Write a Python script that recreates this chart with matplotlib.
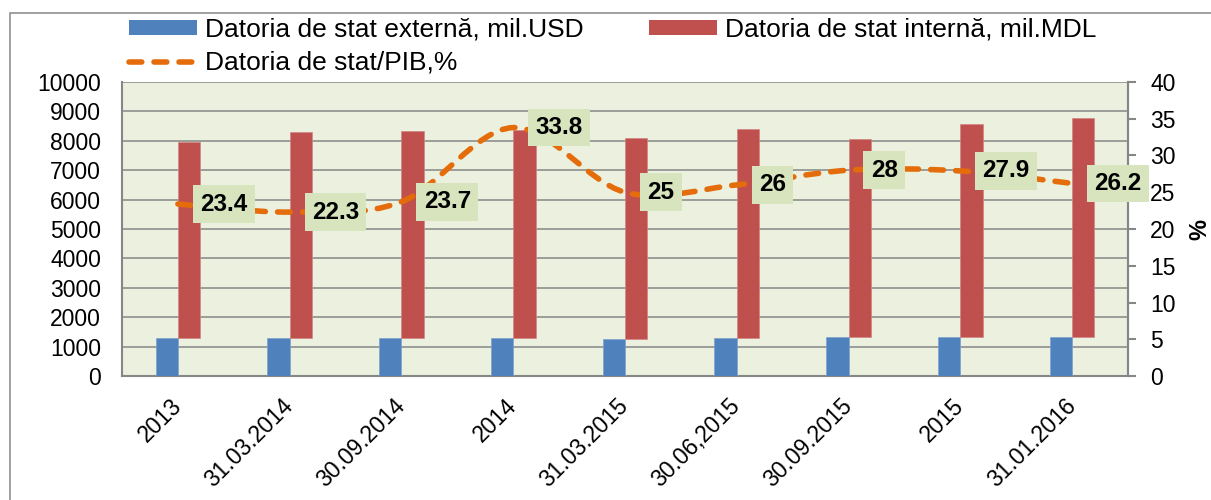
import matplotlib
matplotlib.use('Agg')
import matplotlib.pyplot as plt
import numpy as np
from matplotlib.path import Path
from matplotlib.patches import PathPatch, Rectangle, Patch
from matplotlib.lines import Line2D

# ---------------- data ----------------
categories = ['2013', '31.03.2014', '30.09.2014', '2014', '31.03.2015',
              '30.06,2015', '30.09.2015', '2015', '31.01.2016']
external_usd = [1295, 1295, 1305, 1305, 1250, 1295, 1330, 1330, 1320]
internal_mdl = [6680, 7010, 7035, 7070, 6840, 7105, 6725, 7250, 7455]
debt_gdp = [23.4, 22.3, 23.7, 33.8, 25, 26, 28, 27.9, 26.2]

label_ext = 'Datoria de stat externă, mil.USD'
label_int = 'Datoria de stat internă, mil.MDL'
label_gdp = 'Datoria de stat/PIB,%'

# ---------------- style ----------------
plt.rcParams['font.family'] = ['Liberation Sans', 'DejaVu Sans']
BLUE = '#4f81bd'
RED = '#c0504d'
ORANGE = '#e46c0a'
GRID = '#868686'
PLOT_BG = '#ebf1de'
LABEL_BG = '#d7e4bd'

W, H = 1211, 500
fig = plt.figure(figsize=(W / 100, H / 100), dpi=100)
fig.patch.set_facecolor('white')

# outer chart border (extends past right/bottom edge as in reference)
fig.patches.append(Rectangle((10 / W, -0.2), 1.2, 1.2 - 13 / H,
                             transform=fig.transFigure, fill=False,
                             edgecolor=GRID, lw=1.1, zorder=0))

left, right, bottom, top = 122 / W, 1128 / W, 1 - 376 / H, 1 - 82 / H
ax = fig.add_axes([left, bottom, right - left, top - bottom])
ax.set_facecolor(PLOT_BG)

x = np.arange(len(categories))
bw = 0.2
ax.bar(x - bw, external_usd, width=bw, align='edge', color=BLUE,
       edgecolor='#7ea1cf', lw=0.5, zorder=3)
ax.bar(x, internal_mdl, width=bw, align='edge', bottom=external_usd,
       color=RED, edgecolor='#d38583', lw=0.5, zorder=3)

ax.set_xlim(-0.5, len(categories) - 0.5)
ax.set_ylim(0, 10000)
ax.set_yticks(np.arange(0, 10001, 1000))
ax.yaxis.grid(True, color=GRID, lw=1.1, zorder=1)
ax.set_axisbelow(True)
ax.tick_params(axis='y', length=0, pad=15, labelsize=16.5)
ax.set_xticks(x)
ax.set_xticklabels(categories, rotation=45, ha='right', va='center',
                   rotation_mode='anchor', fontsize=16.5)
ax.tick_params(axis='x', length=0, pad=19)
for s in ['left', 'bottom', 'right']:
    ax.spines[s].set_color(GRID)
    ax.spines[s].set_linewidth(1.5)
ax.spines['top'].set_visible(False)

# secondary axis
ax2 = ax.twinx()
ax2.set_ylim(0, 40)
ax2.set_yticks(np.arange(0, 41, 5))
ax2.tick_params(axis='y', length=6, width=1.5, color=GRID, pad=10, labelsize=16.5)
for s in ['left', 'bottom', 'top']:
    ax2.spines[s].set_visible(False)
ax2.spines['right'].set_color(GRID)
ax2.spines['right'].set_linewidth(1.5)
ax2.set_ylabel('%', fontsize=17, fontweight='bold', labelpad=9)


def smooth_path(xs, ys):
    pts = np.column_stack([xs, ys]).astype(float)
    n = len(pts)
    verts = [pts[0]]
    codes = [Path.MOVETO]
    for i in range(n - 1):
        p0 = pts[i - 1] if i > 0 else pts[i]
        p1 = pts[i]
        p2 = pts[i + 1]
        p3 = pts[i + 2] if i + 2 < n else pts[i + 1]
        c1 = p1 + (p2 - p0) / 6.0
        c2 = p2 - (p3 - p1) / 6.0
        verts += [c1, c2, p2]
        codes += [Path.CURVE4] * 3
    return Path(verts, codes)


dash = (0, (2.3, 2.2))
line_patch = PathPatch(smooth_path(x, debt_gdp), fill=False, edgecolor=ORANGE,
                       lw=4, linestyle=dash, capstyle='round', zorder=4)
ax2.add_patch(line_patch)

for xi, v in zip(x, debt_gdp):
    ax2.annotate(f'{v:g}', (xi, v), xytext=(16, 0), textcoords='offset points',
                 ha='left', va='center', fontsize=17.5, fontweight='bold',
                 bbox=dict(boxstyle='square,pad=0.3', fc=LABEL_BG, ec='none'),
                 zorder=10, annotation_clip=False)

# legend
handles = [Patch(facecolor=BLUE, edgecolor='none'),
           Line2D([0], [0], color=ORANGE, lw=4, linestyle=dash,
                  dash_capstyle='round'),
           Patch(facecolor=RED, edgecolor='none')]
labels = [label_ext, label_gdp, label_int]
fig.legend(handles, labels, ncol=2, loc='upper left',
           bbox_to_anchor=(128.5 / W, 1 - 18 / H), frameon=False, fontsize=19,
           handlelength=2.58, handleheight=0.5, handletextpad=0.32,
           columnspacing=2.46, labelspacing=0.34, borderpad=0, borderaxespad=0)

fig.savefig('out.png', dpi=100)
